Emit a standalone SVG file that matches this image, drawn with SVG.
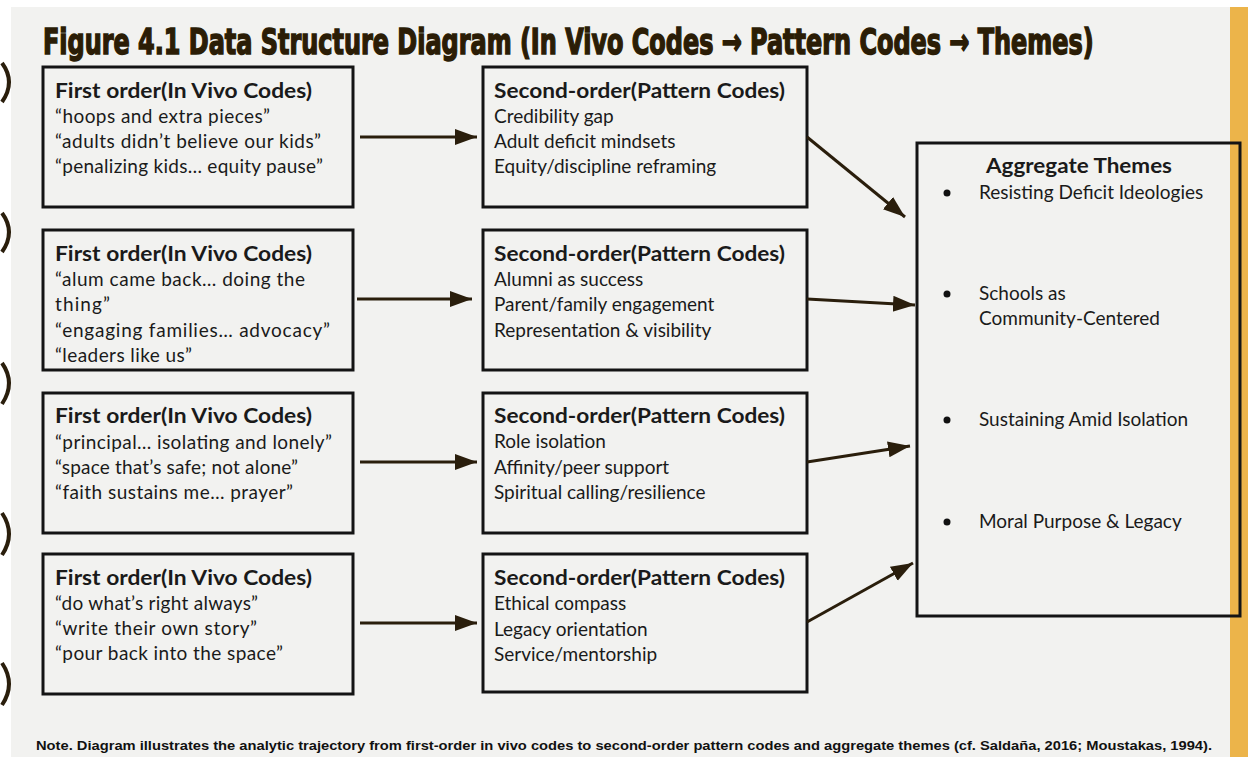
<svg xmlns="http://www.w3.org/2000/svg" width="1248" height="757" viewBox="0 0 1248 757">
<style>
.box{fill:none;stroke:#141414;stroke-width:3}
.t{font-family:Lato,"Noto Sans",sans-serif;font-size:19px;fill:#1a1a1a}
.h{font-weight:bold;font-size:20.5px}
.conn{stroke:#2a1e0c;stroke-width:3;fill:none}
.brk{stroke:#2a1e0c;stroke-width:4;fill:none}
.ttl{font-family:"DejaVu Sans Condensed","DejaVu Sans",sans-serif;font-weight:bold;font-size:36px;fill:#2b1d06;stroke:#2b1d06;stroke-width:1.5}
</style>
<defs>
<marker id="ah" markerUnits="userSpaceOnUse" markerWidth="24" markerHeight="18" refX="22" refY="8" orient="auto">
<path d="M0,0 L22,8 L0,16 Z" fill="#2a1e0c"/>
</marker>
</defs>
<rect x="0" y="0" width="1248" height="757" fill="#ffffff"/>
<rect x="11" y="7" width="1237" height="750" fill="#f2f2f0"/>
<rect x="1230" y="7" width="18" height="750" fill="#ecb44a"/>
<g id="brackets">
<path class="brk" d="M2,63 Q16,82 2,102"/>
<path class="brk" d="M2,213 Q16,232 2,252"/>
<path class="brk" d="M2,363 Q16,383 2,404"/>
<path class="brk" d="M2,513 Q16,534 2,555"/>
<path class="brk" d="M2,663 Q16,684 2,705"/>
</g>
<g id="title" transform="translate(43,54) scale(0.665,1)">
<text class="ttl" x="0" y="0" textLength="1580" lengthAdjust="spacingAndGlyphs">Figure 4.1 Data Structure Diagram (In Vivo Codes → Pattern Codes → Themes)</text>
</g>

<g id="first1">
<rect class="box" x="43" y="67" width="310" height="140"/>
<text class="t h" x="55" y="98" textLength="257" lengthAdjust="spacingAndGlyphs">First order(In Vivo Codes)</text>
<text class="t" x="55" y="123" textLength="215">“hoops and extra pieces”</text>
<text class="t" x="55" y="148" textLength="266">“adults didn’t believe our kids”</text>
<text class="t" x="55" y="173" textLength="268">“penalizing kids… equity pause”</text>
</g>
<g id="first2">
<rect class="box" x="43" y="230" width="310" height="140"/>
<text class="t h" x="55" y="261" textLength="257" lengthAdjust="spacingAndGlyphs">First order(In Vivo Codes)</text>
<text class="t" x="55" y="286" textLength="250">“alum came back… doing the</text>
<text class="t" x="55" y="311" textLength="55">thing”</text>
<text class="t" x="55" y="337" textLength="275">“engaging families… advocacy”</text>
<text class="t" x="55" y="362" textLength="137">“leaders like us”</text>
</g>
<g id="first3">
<rect class="box" x="43" y="393" width="310" height="140"/>
<text class="t h" x="55" y="423" textLength="257" lengthAdjust="spacingAndGlyphs">First order(In Vivo Codes)</text>
<text class="t" x="55" y="449" textLength="277">“principal… isolating and lonely”</text>
<text class="t" x="55" y="474" textLength="243">“space that’s safe; not alone”</text>
<text class="t" x="55" y="499" textLength="238">“faith sustains me… prayer”</text>
</g>
<g id="first4">
<rect class="box" x="43" y="554" width="310" height="140"/>
<text class="t h" x="55" y="585" textLength="257" lengthAdjust="spacingAndGlyphs">First order(In Vivo Codes)</text>
<text class="t" x="55" y="610" textLength="203">“do what’s right always”</text>
<text class="t" x="55" y="635" textLength="202">“write their own story”</text>
<text class="t" x="55" y="660" textLength="228">“pour back into the space”</text>
</g>

<g id="second1">
<rect class="box" x="483" y="67" width="324" height="140"/>
<text class="t h" x="494" y="98" textLength="291" lengthAdjust="spacingAndGlyphs">Second-order(Pattern Codes)</text>
<text class="t" x="494" y="123">Credibility gap</text>
<text class="t" x="494" y="148">Adult deficit mindsets</text>
<text class="t" x="494" y="173">Equity/discipline reframing</text>
</g>
<g id="second2">
<rect class="box" x="483" y="230" width="324" height="140"/>
<text class="t h" x="494" y="261" textLength="291" lengthAdjust="spacingAndGlyphs">Second-order(Pattern Codes)</text>
<text class="t" x="494" y="286">Alumni as success</text>
<text class="t" x="494" y="311">Parent/family engagement</text>
<text class="t" x="494" y="337">Representation &amp; visibility</text>
</g>
<g id="second3">
<rect class="box" x="483" y="393" width="324" height="140"/>
<text class="t h" x="494" y="423" textLength="291" lengthAdjust="spacingAndGlyphs">Second-order(Pattern Codes)</text>
<text class="t" x="494" y="448">Role isolation</text>
<text class="t" x="494" y="474">Affinity/peer support</text>
<text class="t" x="494" y="499">Spiritual calling/resilience</text>
</g>
<g id="second4">
<rect class="box" x="483" y="554" width="324" height="138"/>
<text class="t h" x="494" y="585" textLength="291" lengthAdjust="spacingAndGlyphs">Second-order(Pattern Codes)</text>
<text class="t" x="494" y="610">Ethical compass</text>
<text class="t" x="494" y="636">Legacy orientation</text>
<text class="t" x="494" y="661">Service/mentorship</text>
</g>

<g id="themes">
<rect class="box" x="917" y="143" width="323" height="473"/>
<text class="t h" x="986" y="173" textLength="186" lengthAdjust="spacingAndGlyphs">Aggregate Themes</text>
<circle cx="947" cy="193" r="3.5" fill="#111"/>
<text class="t" x="979" y="199">Resisting Deficit Ideologies</text>
<circle cx="947" cy="294" r="3.5" fill="#111"/>
<text class="t" x="979" y="300">Schools as</text>
<text class="t" x="979" y="325">Community-Centered</text>
<circle cx="947" cy="420" r="3.5" fill="#111"/>
<text class="t" x="979" y="426">Sustaining Amid Isolation</text>
<circle cx="947" cy="522" r="3.5" fill="#111"/>
<text class="t" x="979" y="528">Moral Purpose &amp; Legacy</text>
</g>

<g id="connectors">
<line class="conn" x1="360" y1="137" x2="477" y2="137" marker-end="url(#ah)"/>
<line class="conn" x1="357" y1="299" x2="472" y2="299" marker-end="url(#ah)"/>
<line class="conn" x1="360" y1="462" x2="477" y2="462" marker-end="url(#ah)"/>
<line class="conn" x1="360" y1="623" x2="477" y2="623" marker-end="url(#ah)"/>
<line class="conn" x1="807" y1="137" x2="905" y2="217" marker-end="url(#ah)"/>
<line class="conn" x1="807" y1="299" x2="915" y2="305" marker-end="url(#ah)"/>
<line class="conn" x1="807" y1="462" x2="910" y2="446" marker-end="url(#ah)"/>
<line class="conn" x1="807" y1="622" x2="913" y2="563" marker-end="url(#ah)"/>
</g>

<text x="36" y="750" font-family="'Liberation Sans',Arial,sans-serif" font-weight="bold" font-size="13" fill="#111" textLength="1176" lengthAdjust="spacingAndGlyphs">Note. Diagram illustrates the analytic trajectory from first-order in vivo codes to second-order pattern codes and aggregate themes (cf. Saldaña, 2016; Moustakas, 1994).</text>
</svg>
